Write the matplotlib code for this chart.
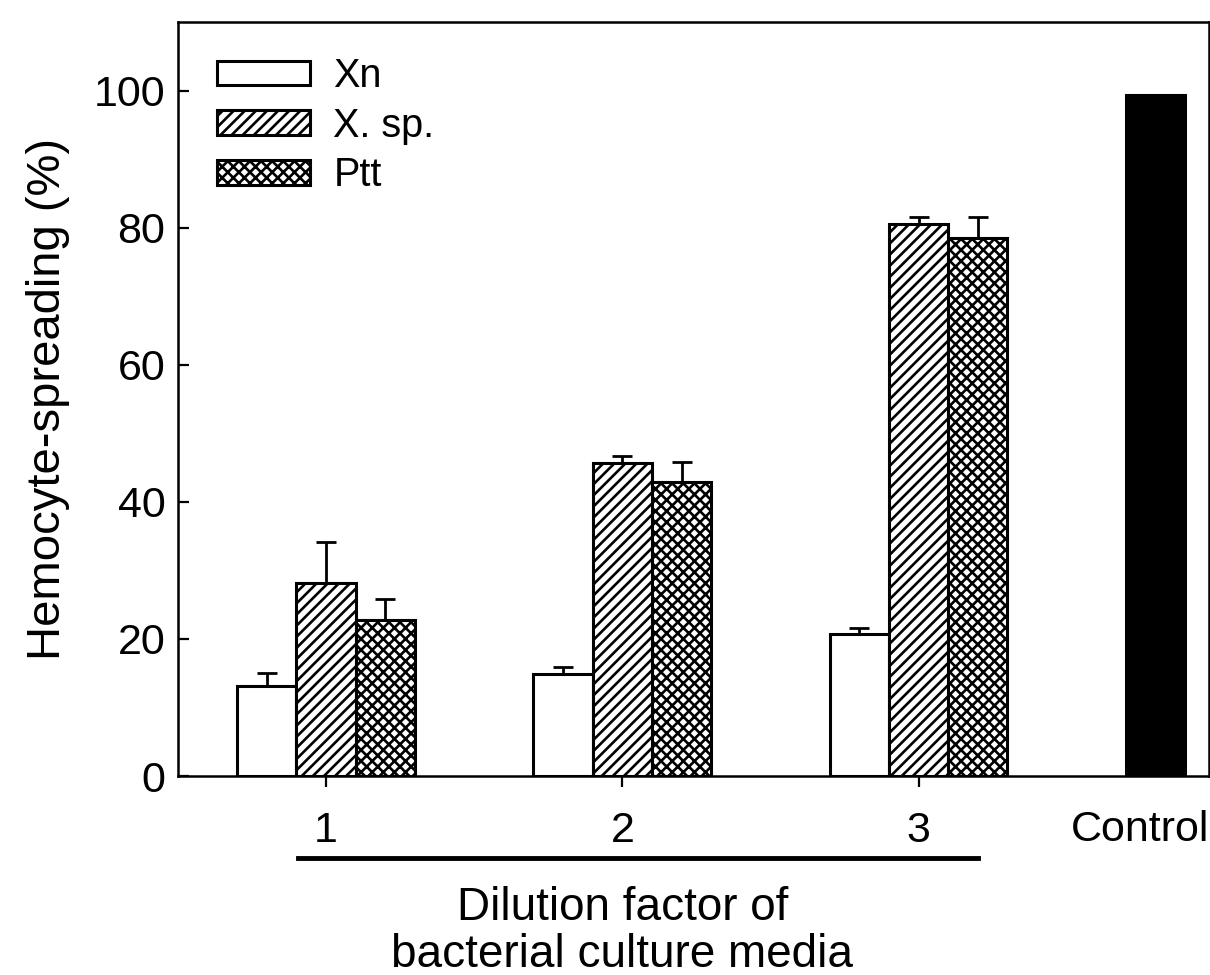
import matplotlib
matplotlib.use("Agg")
import matplotlib.pyplot as plt
import numpy as np

plt.rcParams['font.family'] = ['Liberation Sans', 'DejaVu Sans']
plt.rcParams['hatch.linewidth'] = 1.9

# data
dilution = ['1', '2', '3']
xn = [13.1, 14.9, 20.7]
xn_err = [1.9, 1.0, 0.9]
xsp = [28.2, 45.7, 80.6]
xsp_err = [5.9, 1.0, 0.9]
ptt = [22.8, 42.9, 78.5]
ptt_err = [3.0, 2.9, 3.0]
control = 99.3

x = np.arange(1, len(dilution) + 1)
w = 0.2
x_ctrl = 3.8

fig = plt.figure(figsize=(12.1, 9.75), dpi=100)
ax = fig.add_axes([0.1471, 0.2041, 0.852, 0.7733])

kw = dict(width=w, edgecolor='black', linewidth=2.2)
ax.bar(x - w, xn, color='white', label='Xn', **kw)
ax.bar(x, xsp, color='white', hatch='///', label='X. sp.', **kw)
ax.bar(x + w, ptt, color='white', hatch='xxx', label='Ptt', **kw)
ax.bar([x_ctrl], [control], color='black', **kw)

ekw = dict(fmt='none', ecolor='black', elinewidth=2.0, capsize=7, capthick=2.0)
for xs, ys, es in [(x - w, xn, xn_err), (x, xsp, xsp_err), (x + w, ptt, ptt_err)]:
    ax.errorbar(xs, ys, yerr=[np.zeros(len(es)), es], **ekw)

ax.set_xlim(0.5, 3.98)
ax.set_ylim(0, 110)
ax.set_yticks([0, 20, 40, 60, 80, 100])
ax.set_xticks(list(x) + [x_ctrl])
ax.set_xticklabels(dilution + [''])
ax.xaxis.get_major_ticks()[-1].tick1line.set_visible(False)

ax.tick_params(axis='y', direction='in', length=8, width=1.6, labelsize=31, pad=9)
ax.tick_params(axis='x', direction='out', length=8, width=1.6, labelsize=31, pad=17)
for s in ax.spines.values():
    s.set_linewidth(1.8)

# control label sits flush with the right edge
ax.text(1.0, -0.072, 'Control', fontsize=31, ha='right', va='center',
        transform=ax.transAxes)

ax.set_ylabel('Hemocyte-spreading (%)', fontsize=34, labelpad=17)

# bracket line under the dilution labels
ax.plot([0.905, 3.2], [-0.109, -0.109], color='black', linewidth=3.5,
        transform=ax.get_xaxis_transform(), clip_on=False)
ax.text(2.0, -0.206, 'Dilution factor of\nbacterial culture media', fontsize=33,
        ha='center', va='center', linespacing=1.08,
        transform=ax.get_xaxis_transform())

ax.legend(loc='upper left', bbox_to_anchor=(0.022, 0.975), frameon=False,
          fontsize=28.5, handlelength=2.35, handleheight=0.57,
          handletextpad=0.6, labelspacing=0.3, borderaxespad=0)

fig.savefig('out.png', dpi=100)
